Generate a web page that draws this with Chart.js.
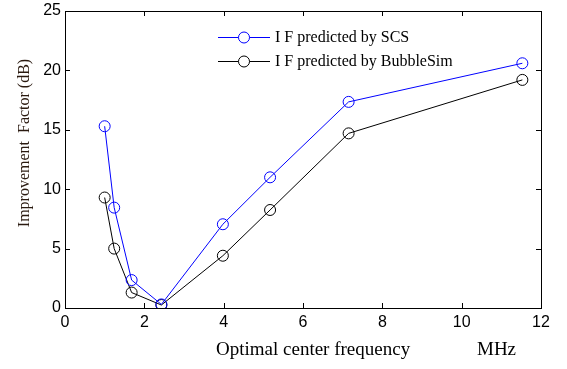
<!DOCTYPE html>
<html>
<head>
<meta charset="utf-8">
<script src="https://cdn.jsdelivr.net/npm/chart.js@4"></script>
<style>
  html, body { margin: 0; padding: 0; background: #fff; }
  #wrap { width: 567px; height: 369px; }
</style>
</head>
<body>
<div id="wrap"><canvas id="chart"></canvas></div>
<script>
// frequency in MHz and improvement factor in dB
const freqs = [1.0, 1.24, 1.68, 2.43, 3.98, 5.17, 7.15, 11.53];
const scsValues = [15.3, 8.45, 2.35, 0.3, 7.05, 11.0, 17.35, 20.6];
const bubbleSimValues = [9.3, 5.0, 1.3, 0.25, 4.4, 8.25, 14.7, 19.2];
const seriesNames = ['I F predicted by SCS', 'I F predicted by BubbleSim'];
const xTicks = [0, 2, 4, 6, 8, 10, 12];
const yTicks = [0, 5, 10, 15, 20, 25];

const toPoints = (xs, ys) => xs.map((x, i) => ({ x: x, y: ys[i] }));

// box frame, inward ticks, legend and axis titles, MATLAB style
const decorations = {
  id: 'decorations',
  afterDraw(chart) {
    const c = chart.ctx;
    const a = chart.chartArea;
    const xs = chart.scales.x, ys = chart.scales.y;
    c.save();
    c.strokeStyle = '#000';
    c.lineWidth = 1;
    c.strokeRect(Math.round(a.left) + 0.5, Math.round(a.top) + 0.5,
      Math.round(a.right - a.left), Math.round(a.bottom - a.top));
    c.beginPath();
    xTicks.forEach(v => {
      const px = Math.round(xs.getPixelForValue(v)) + 0.5;
      c.moveTo(px, a.bottom); c.lineTo(px, a.bottom - 5);
      c.moveTo(px, a.top); c.lineTo(px, a.top + 5);
    });
    yTicks.forEach(v => {
      const py = Math.round(ys.getPixelForValue(v)) + 0.5;
      c.moveTo(a.left, py); c.lineTo(a.left + 5, py);
      c.moveTo(a.right, py); c.lineTo(a.right - 5, py);
    });
    c.stroke();

    // legend
    c.font = '16px "Liberation Serif", "Times New Roman", serif';
    c.textBaseline = 'middle';
    c.textAlign = 'left';
    chart.data.datasets.forEach((ds, i) => {
      const y = 37 + i * 24;
      c.strokeStyle = ds.borderColor;
      c.beginPath();
      c.moveTo(218, y + 0.5); c.lineTo(270, y + 0.5);
      c.stroke();
      c.beginPath();
      c.arc(244, y + 0.5, 5.5, 0, Math.PI * 2);
      c.fillStyle = '#fff';
      c.fill();
      c.stroke();
      c.fillStyle = '#000';
      c.fillText(ds.label, 275, y + 1);
    });

    // axis titles
    c.fillStyle = '#000';
    c.font = '19px "Liberation Serif", "Times New Roman", serif';
    c.fillText('Optimal center frequency', 216, 350);
    c.fillText('MHz', 477, 350);
    c.translate(25, 143);
    c.rotate(-Math.PI / 2);
    c.textAlign = 'center';
    c.font = '16px "Liberation Serif", "Times New Roman", serif';
    c.fillStyle = '#2a1a10';
    c.fillText('Improvement  Factor (dB)', 0, 0);
    c.restore();
  }
};

new Chart(document.getElementById('chart'), {
  type: 'scatter',
  data: {
    datasets: [{
      label: seriesNames[0],
      data: toPoints(freqs, scsValues),
      showLine: true,
      borderColor: '#0000ff',
      backgroundColor: 'rgba(0,0,0,0)',
      borderWidth: 1,
      pointRadius: 5.5,
      pointBorderWidth: 1,
      pointBorderColor: '#0000ff'
    }, {
      label: seriesNames[1],
      data: toPoints(freqs, bubbleSimValues),
      showLine: true,
      borderColor: '#000000',
      backgroundColor: 'rgba(0,0,0,0)',
      borderWidth: 1,
      pointRadius: 5.5,
      pointBorderWidth: 1,
      pointBorderColor: '#000000'
    }]
  },
  options: {
    responsive: true,
    maintainAspectRatio: false,
    animation: false,
    layout: { padding: { top: 11, right: 26, left: 0, bottom: 0 } },
    plugins: {
      legend: { display: false },
      tooltip: { enabled: false }
    },
    scales: {
      x: {
        type: 'linear',
        min: 0,
        max: 12,
        afterBuildTicks: s => { s.ticks = xTicks.map(v => ({ value: v })); },
        afterFit: s => { s.height = 61; s.paddingLeft = 0; s.paddingRight = 0; },
        grid: { display: false, drawTicks: false },
        border: { display: false },
        ticks: {
          color: '#000',
          padding: 5,
          maxRotation: 0,
          font: { family: '"Liberation Sans", Arial, sans-serif', size: 16 }
        }
      },
      y: {
        type: 'linear',
        min: 0,
        max: 25,
        afterBuildTicks: s => { s.ticks = yTicks.map(v => ({ value: v })); },
        afterFit: s => { s.width = 65; s.paddingTop = 0; s.paddingBottom = 0; },
        grid: { display: false, drawTicks: false },
        border: { display: false },
        ticks: {
          color: '#000',
          padding: 4,
          font: { family: '"Liberation Sans", Arial, sans-serif', size: 16 }
        }
      }
    }
  },
  plugins: [decorations]
});
</script>
</body>
</html>
